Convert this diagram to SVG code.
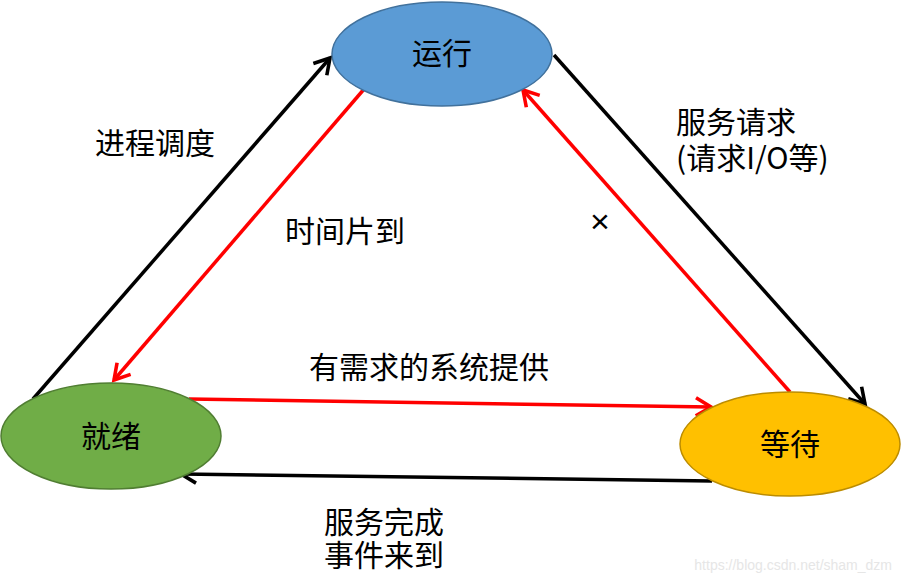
<svg xmlns="http://www.w3.org/2000/svg" width="902" height="581" viewBox="0 0 902 581">
<style>
.t{font-family:"Noto Sans CJK SC","Microsoft YaHei",sans-serif;font-size:30px;fill:#000}
.n{font-family:"Noto Sans CJK SC","Microsoft YaHei",sans-serif;font-size:30px;fill:#000;text-anchor:middle}
.k{fill:none;stroke:#000;stroke-width:3.5}
.r{fill:none;stroke:#ff0000;stroke-width:3.5}
</style>
<defs>
<marker id="ak" markerUnits="userSpaceOnUse" markerWidth="22" markerHeight="22" refX="13" refY="8" orient="auto" viewBox="0 0 16 16">
<path d="M2,1.5 L13,8 L2,14.5" fill="none" stroke="#000" stroke-width="2.6"/>
</marker>
<marker id="ar" markerUnits="userSpaceOnUse" markerWidth="22" markerHeight="22" refX="13" refY="8" orient="auto" viewBox="0 0 16 16">
<path d="M2,1.5 L13,8 L2,14.5" fill="none" stroke="#ff0000" stroke-width="2.6"/>
</marker>
</defs>
<rect width="902" height="581" fill="#fff"/>
<g id="connectors">
<line class="k" x1="33" y1="399" x2="330" y2="58" marker-end="url(#ak)"/>
<line class="k" x1="554" y1="55" x2="865" y2="404" marker-end="url(#ak)"/>
<line class="r" x1="365" y1="88" x2="114" y2="380" marker-end="url(#ar)"/>
<line class="r" x1="790" y1="392" x2="523" y2="90" marker-end="url(#ar)"/>
<line class="r" x1="189" y1="399" x2="711" y2="407" marker-end="url(#ar)"/>
<line class="k" x1="712" y1="481" x2="181" y2="474" marker-end="url(#ak)"/>
</g>
<g id="running">
<ellipse cx="442" cy="54" rx="110" ry="52" fill="#5b9bd5" stroke="#41719c" stroke-width="1.5"/>
<text class="n" x="442" y="64">运行</text>
</g>
<g id="ready">
<ellipse cx="111" cy="436" rx="110" ry="53" fill="#70ad47" stroke="#507e32" stroke-width="1.5"/>
<text class="n" x="111" y="447">就绪</text>
</g>
<g id="waiting">
<ellipse cx="790" cy="444" rx="110" ry="52" fill="#ffc000" stroke="#bc8c00" stroke-width="1.5"/>
<text class="n" x="790" y="455">等待</text>
</g>
<g id="labels">
<text class="t" x="95" y="154">进程调度</text>
<text class="t" x="285" y="242">时间片到</text>
<text class="t"><tspan x="676" y="133">服务请求</tspan><tspan x="676" y="169">(请求I/O等)</tspan></text>
<text class="t" x="309" y="378">有需求的系统提供</text>
<text class="t"><tspan x="324" y="533">服务完成</tspan><tspan x="324" y="566">事件来到</tspan></text>
<text x="600" y="233" font-family="Liberation Sans,sans-serif" font-size="34" text-anchor="middle" fill="#000">×</text>
<text x="892" y="570" font-family="Liberation Sans,sans-serif" font-size="14" text-anchor="end" fill="#e6e6e6">https://blog.csdn.net/sham_dzm</text>
</g>
</svg>
